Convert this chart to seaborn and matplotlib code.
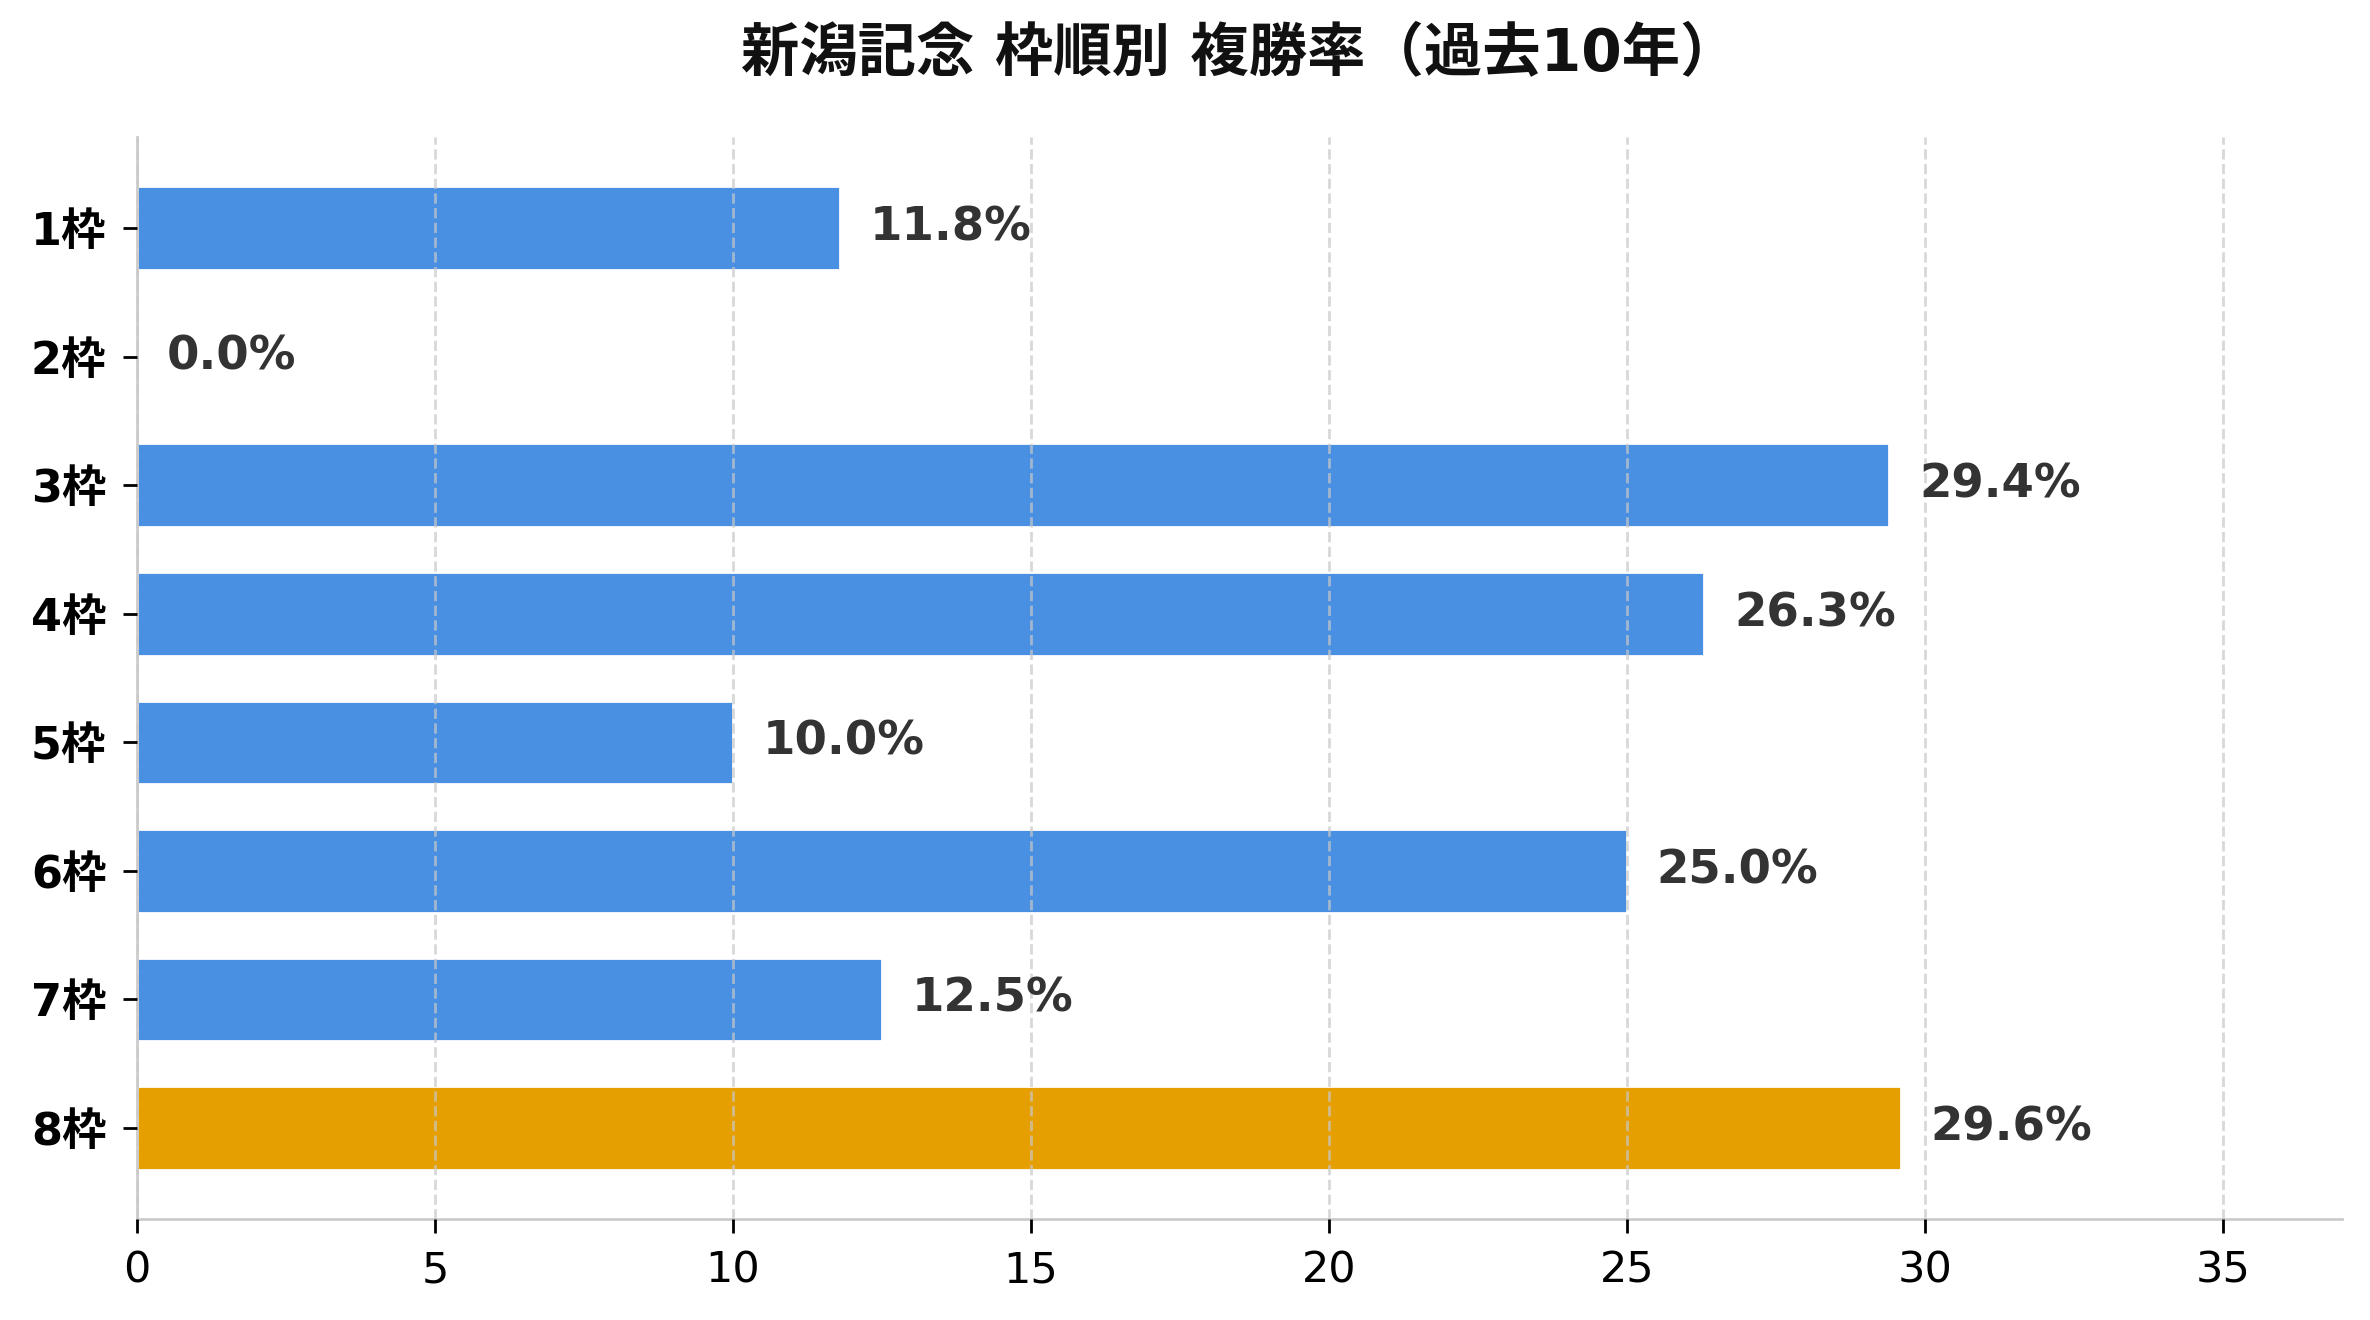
import matplotlib
matplotlib.use("Agg")
import matplotlib.pyplot as plt
import seaborn as sns
import pandas as pd

# data
gates = ["1枠", "2枠", "3枠", "4枠", "5枠", "6枠", "7枠", "8枠"]
place_rate = [11.8, 0.0, 29.4, 26.3, 10.0, 25.0, 12.5, 29.6]
highlight_gate = "8枠"

BLUE = "#4A90E2"
GOLD = "#E69F00"

sns.set_theme(style="ticks")
# latin glyphs from DejaVu, kanji fall through to Noto CJK
plt.rcParams["font.family"] = ["DejaVu Sans", "Noto Sans CJK JP"]

df = pd.DataFrame({"gate": gates, "rate": place_rate})
palette = {g: (GOLD if g == highlight_gate else BLUE) for g in gates}

fig, ax = plt.subplots(figsize=(11.85, 6.6), dpi=200)
fig.subplots_adjust(left=0.0578, right=0.9882, bottom=0.0765, top=0.8962)

bar_w = 0.65
sns.barplot(data=df, x="rate", y="gate", hue="gate", palette=palette,
            orient="h", width=bar_w, legend=False, saturation=1, ax=ax)

# value labels just past the bar end
for i, v in enumerate(df["rate"]):
    ax.text(v + 0.5, i, f"{v:.1f}%", va="center", ha="left",
            fontsize=16.8, fontweight="bold", color="#333333")

ax.set_xlim(0, max(place_rate) * 1.25)
pad = (len(gates) - 1 + bar_w) * 0.05
ax.set_ylim(len(gates) - 1 + bar_w / 2 + pad, -bar_w / 2 - pad)

ax.set_title("新潟記念 枠順別 複勝率（過去10年）", fontsize=21,
             fontweight="bold", color="#111111", pad=24)
ax.set_xlabel("")
ax.set_ylabel("")

ax.grid(axis="x", linestyle="--", color="#c8c8c8", alpha=0.7, linewidth=1.0)
ax.set_axisbelow(False)

sns.despine(ax=ax)
for side in ["left", "bottom"]:
    ax.spines[side].set_color("#cccccc")
    ax.spines[side].set_linewidth(1.0)

ax.tick_params(axis="both", length=5, width=1.0, color="black",
               labelcolor="black", pad=6)
ax.tick_params(axis="x", labelsize=15.5)
ax.tick_params(axis="y", labelsize=16)
for lab in ax.get_yticklabels():
    lab.set_fontweight("bold")

fig.savefig("out.png", dpi=200)
plt.close(fig)
